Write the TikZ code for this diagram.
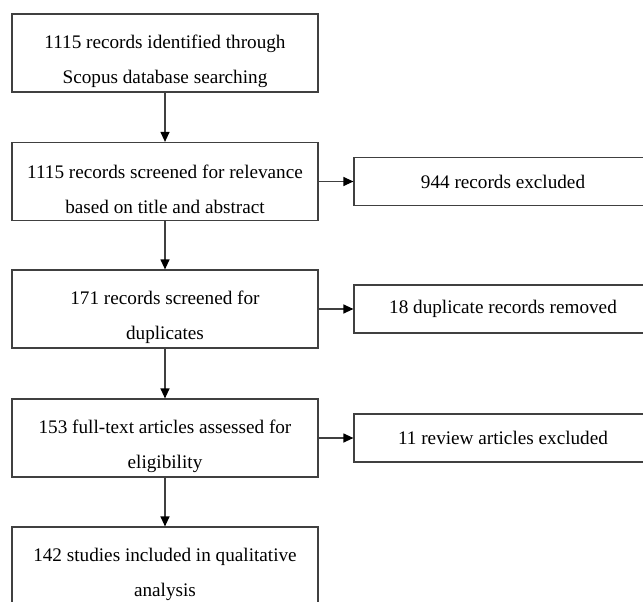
\documentclass[tikz,border=0pt]{standalone}
\usepackage{fontspec}
\setmainfont{Liberation Serif}
\usetikzlibrary{arrows.meta}
\begin{document}
\begin{tikzpicture}[x=1pt,y=-1pt,
  mainbox/.style={draw=black!75, line width=1.2pt, minimum width=306pt, minimum height=78pt, inner sep=0pt},
  boxtext/.style={align=center, inner sep=0pt, yshift=-8pt, font=\fontsize{19.2}{35}\selectfont},
  sidebox/.style={draw=black!75, line width=1.2pt, minimum width=298pt, minimum height=48pt, inner sep=0pt, align=center, font=\fontsize{19.2}{35}\selectfont},
  flow/.style={draw=black!75, line width=1.2pt, -{Triangle[length=10pt,width=9pt,color=black]}}]
\useasboundingbox (0,0) rectangle (643,602);
\clip (0,0) rectangle (643,602);
\node[mainbox, label={[boxtext]center:{1115 records identified through\\Scopus database searching}}] (b1) at (165,53) {};
\node[mainbox, label={[boxtext]center:{1115 records screened for relevance\\based on title and abstract}}] (b2) at (165,181.5) {};
\node[mainbox, label={[boxtext]center:{171 records screened for\\duplicates}}] (b3) at (165,309) {};
\node[mainbox, label={[boxtext]center:{153 full-text articles assessed for\\eligibility}}] (b4) at (165,438) {};
\node[mainbox, label={[boxtext]center:{142 studies included in qualitative\\analysis}}] (b5) at (165,566) {};
\node[sidebox] (r1) at (503,181.5) {944 records excluded};
\node[sidebox] (r2) at (503,309) {18 duplicate records removed};
\node[sidebox] (r3) at (503,438) {11 review articles excluded};
\draw[flow] (b1) -- (b2);
\draw[flow] (b2) -- (b3);
\draw[flow] (b3) -- (b4);
\draw[flow] (b4) -- (b5);
\draw[flow] (b2) -- (r1);
\draw[flow] (b3) -- (r2);
\draw[flow] (b4) -- (r3);
\end{tikzpicture}
\end{document}
